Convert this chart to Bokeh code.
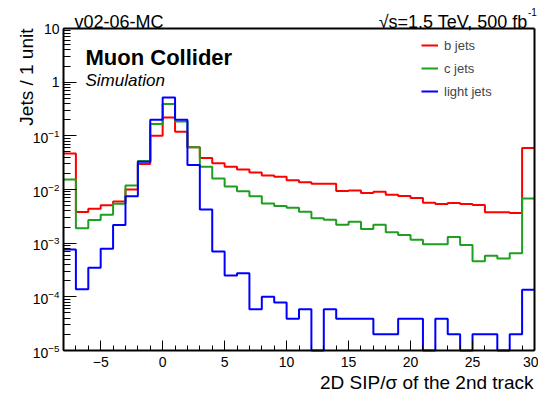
import math
import numpy as np
from bokeh.plotting import figure
from bokeh.models import (Range1d, Label, Legend, LegendItem, ColumnDataSource,
                          SingleIntervalTicker, LogTicker, FixedTicker,
                          LinearAxis, LogAxis)
from bokeh.embed import file_html
from bokeh.resources import INLINE

# ---------------- data (bin contents, bins of width 1 from -8 to 30) -------------
bin_edges = list(range(-8, 31))
b_jets = [0.047, 0.0038, 0.0044, 0.0051, 0.006, 0.010, 0.030, 0.10, 0.22, 0.119,
          0.061, 0.0386, 0.031, 0.0266, 0.0237, 0.0208, 0.0183, 0.0173, 0.0148, 0.0136,
          0.0128, 0.0128, 0.0094, 0.0096, 0.0086, 0.0091, 0.0080, 0.00757, 0.00695, 0.00568,
          0.00537, 0.00561, 0.00537, 0.00514, 0.00375, 0.00375, 0.00365, 0.0593]
c_jets = [0.0154, 0.00189, 0.0027, 0.0034, 0.0054, 0.0119, 0.034, 0.166, 0.391, 0.185,
          0.061, 0.0266, 0.0161, 0.0114, 0.00923, 0.00745, 0.0055, 0.00493, 0.00458, 0.00386,
          0.00292, 0.00274, 0.00221, 0.00251, 0.00184, 0.00221, 0.00159, 0.00142, 0.00116, 0.00095,
          0.00095, 0.0013, 0.00092, 0.00046, 0.00058, 0.00052, 0.00065, 0.00683]
light_jets = [0.00076, 0.000138, 0.00035, 0.00079, 0.00218, 0.00745, 0.033, 0.20, 0.52, 0.20,
              0.0286, 0.00426, 0.0007, 0.00025, 0.000274, 5.9e-5, 1.0e-4, 7.8e-5, 3.9e-5, 5.9e-5,
              0.0, 5.9e-5, 3.9e-5, 3.9e-5, 3.9e-5, 2.0e-5, 2.0e-5, 3.9e-5, 3.9e-5, 0.0,
              3.9e-5, 2.0e-5, 0.0, 2.0e-5, 2.0e-5, 0.0, 2.0e-5, 1.36e-4]
series_names = ["b jets", "c jets", "light jets"]
series_colors = ["#ff0000", "#1f9f1f", "#0000ff"]

X0, X1 = -8, 30          # axis extent
Y0, Y1 = 1e-5, 10        # axis extent (log)

FONT = "Liberation Sans"

# ---------------- geometry: canvas pixels of the axis box ----------------------------
W, H = 538, 395
FL, FR, FT, FB = 63.0, 534.0, 28.0, 350.0
PXX = (FR - FL) / (X1 - X0)
LT, LB = math.log10(Y1), math.log10(Y0)
PYD = (FB - FT) / (LT - LB)

def dx(px):
    return X0 + (px - FL) / PXX

def dy(py):
    return 10 ** (LT - (py - FT) / PYD)

p = figure(width=W, height=H, output_backend="svg", toolbar_location=None,
           x_range=Range1d(dx(0), dx(W)), y_range=Range1d(dy(H), dy(0)),
           y_axis_type="log", x_axis_location=None, y_axis_location=None,
           min_border=0, min_border_left=0, min_border_right=0,
           min_border_top=0, min_border_bottom=0)
p.background_fill_color = "white"
p.border_fill_color = "white"
p.outline_line_color = None
p.grid.visible = False

def style_axis(ax):
    ax.axis_line_width = 2
    ax.axis_line_color = "black"
    ax.major_tick_out = 0
    ax.minor_tick_out = 0
    ax.major_tick_line_color = "black"
    ax.minor_tick_line_color = "black"
    ax.major_label_text_font = FONT
    ax.major_label_text_font_size = "14px"
    ax.major_label_text_color = "black"

xaxis = LinearAxis(fixed_location=Y0, bounds=(X0, X1),
                   ticker=SingleIntervalTicker(interval=5, num_minor_ticks=5))
style_axis(xaxis)
xaxis.major_tick_in = 10
xaxis.minor_tick_in = 5
xaxis.major_label_standoff = 6
xaxis.major_label_overrides = {-5: "\u22125"}
p.add_layout(xaxis, "below")

yaxis = LogAxis(fixed_location=X0, bounds=(Y0, Y1),
                ticker=LogTicker(mantissas=[1], desired_num_ticks=7, num_minor_ticks=10))
style_axis(yaxis)
yaxis.major_tick_in = 13
yaxis.minor_tick_in = 7
yaxis.major_label_standoff = 4
yaxis.major_label_overrides = {10: "10", 1: "1"}
p.add_layout(yaxis, "left")

# frame lines on top and right (no ticks)
top_ax = LinearAxis(fixed_location=Y1, bounds=(X0, X1), ticker=FixedTicker(ticks=[]),
                    major_label_text_alpha=0, axis_line_width=2)
p.add_layout(top_ax, "above")
right_ax = LinearAxis(fixed_location=X1, bounds=(Y0, Y1), ticker=FixedTicker(ticks=[]),
                      major_label_text_alpha=0, axis_line_width=2)
p.add_layout(right_ax, "right")

# histograms
renderers = []
for vals, col in zip([b_jets, c_jets, light_jets], series_colors):
    v = np.asarray(vals, dtype=float)
    v = np.where(v > 0, v, Y0)
    src = ColumnDataSource(dict(x=bin_edges, y=list(v) + [v[-1]]))
    r = p.step(x="x", y="y", source=src, mode="after", line_color=col, line_width=2)
    renderers.append(r)

legend = Legend(items=[LegendItem(label=n, renderers=[r]) for n, r in zip(series_names, renderers)],
                location=(421, H - 101), orientation="vertical",
                label_text_font=FONT, label_text_font_size="13px",
                glyph_width=17, glyph_height=20, label_height=20, spacing=3,
                label_standoff=6, padding=0, margin=0,
                border_line_alpha=0, background_fill_alpha=0)
p.add_layout(legend, "center")

def add_text(txt, px, py, size, align="left", style="normal", angle=0.0):
    p.add_layout(Label(x=dx(px), y=dy(py), text=txt, text_font=FONT,
                       text_font_size=size, text_font_style=style, text_align=align,
                       text_baseline="alphabetic", text_color="black", angle=angle))

add_text("v02-06-MC", 74, 21.7, "18px")
add_text("\u221as=1.5 TeV, 500 fb", 527, 21.7, "18px", align="right")
add_text("-1", 527.5, 11, "10px")
add_text("Muon Collider", 85, 56.7, "22px", style="bold")
add_text("Simulation", 85, 80, "17px", style="italic")
add_text("Jets / 1 unit", 25.5, 28, "19px", align="right", angle=math.pi / 2)
add_text("2D SIP/\u03c3 of the 2nd track", 533, 382, "19px", align="right")

open("out.html", "w").write(file_html(p, INLINE))
